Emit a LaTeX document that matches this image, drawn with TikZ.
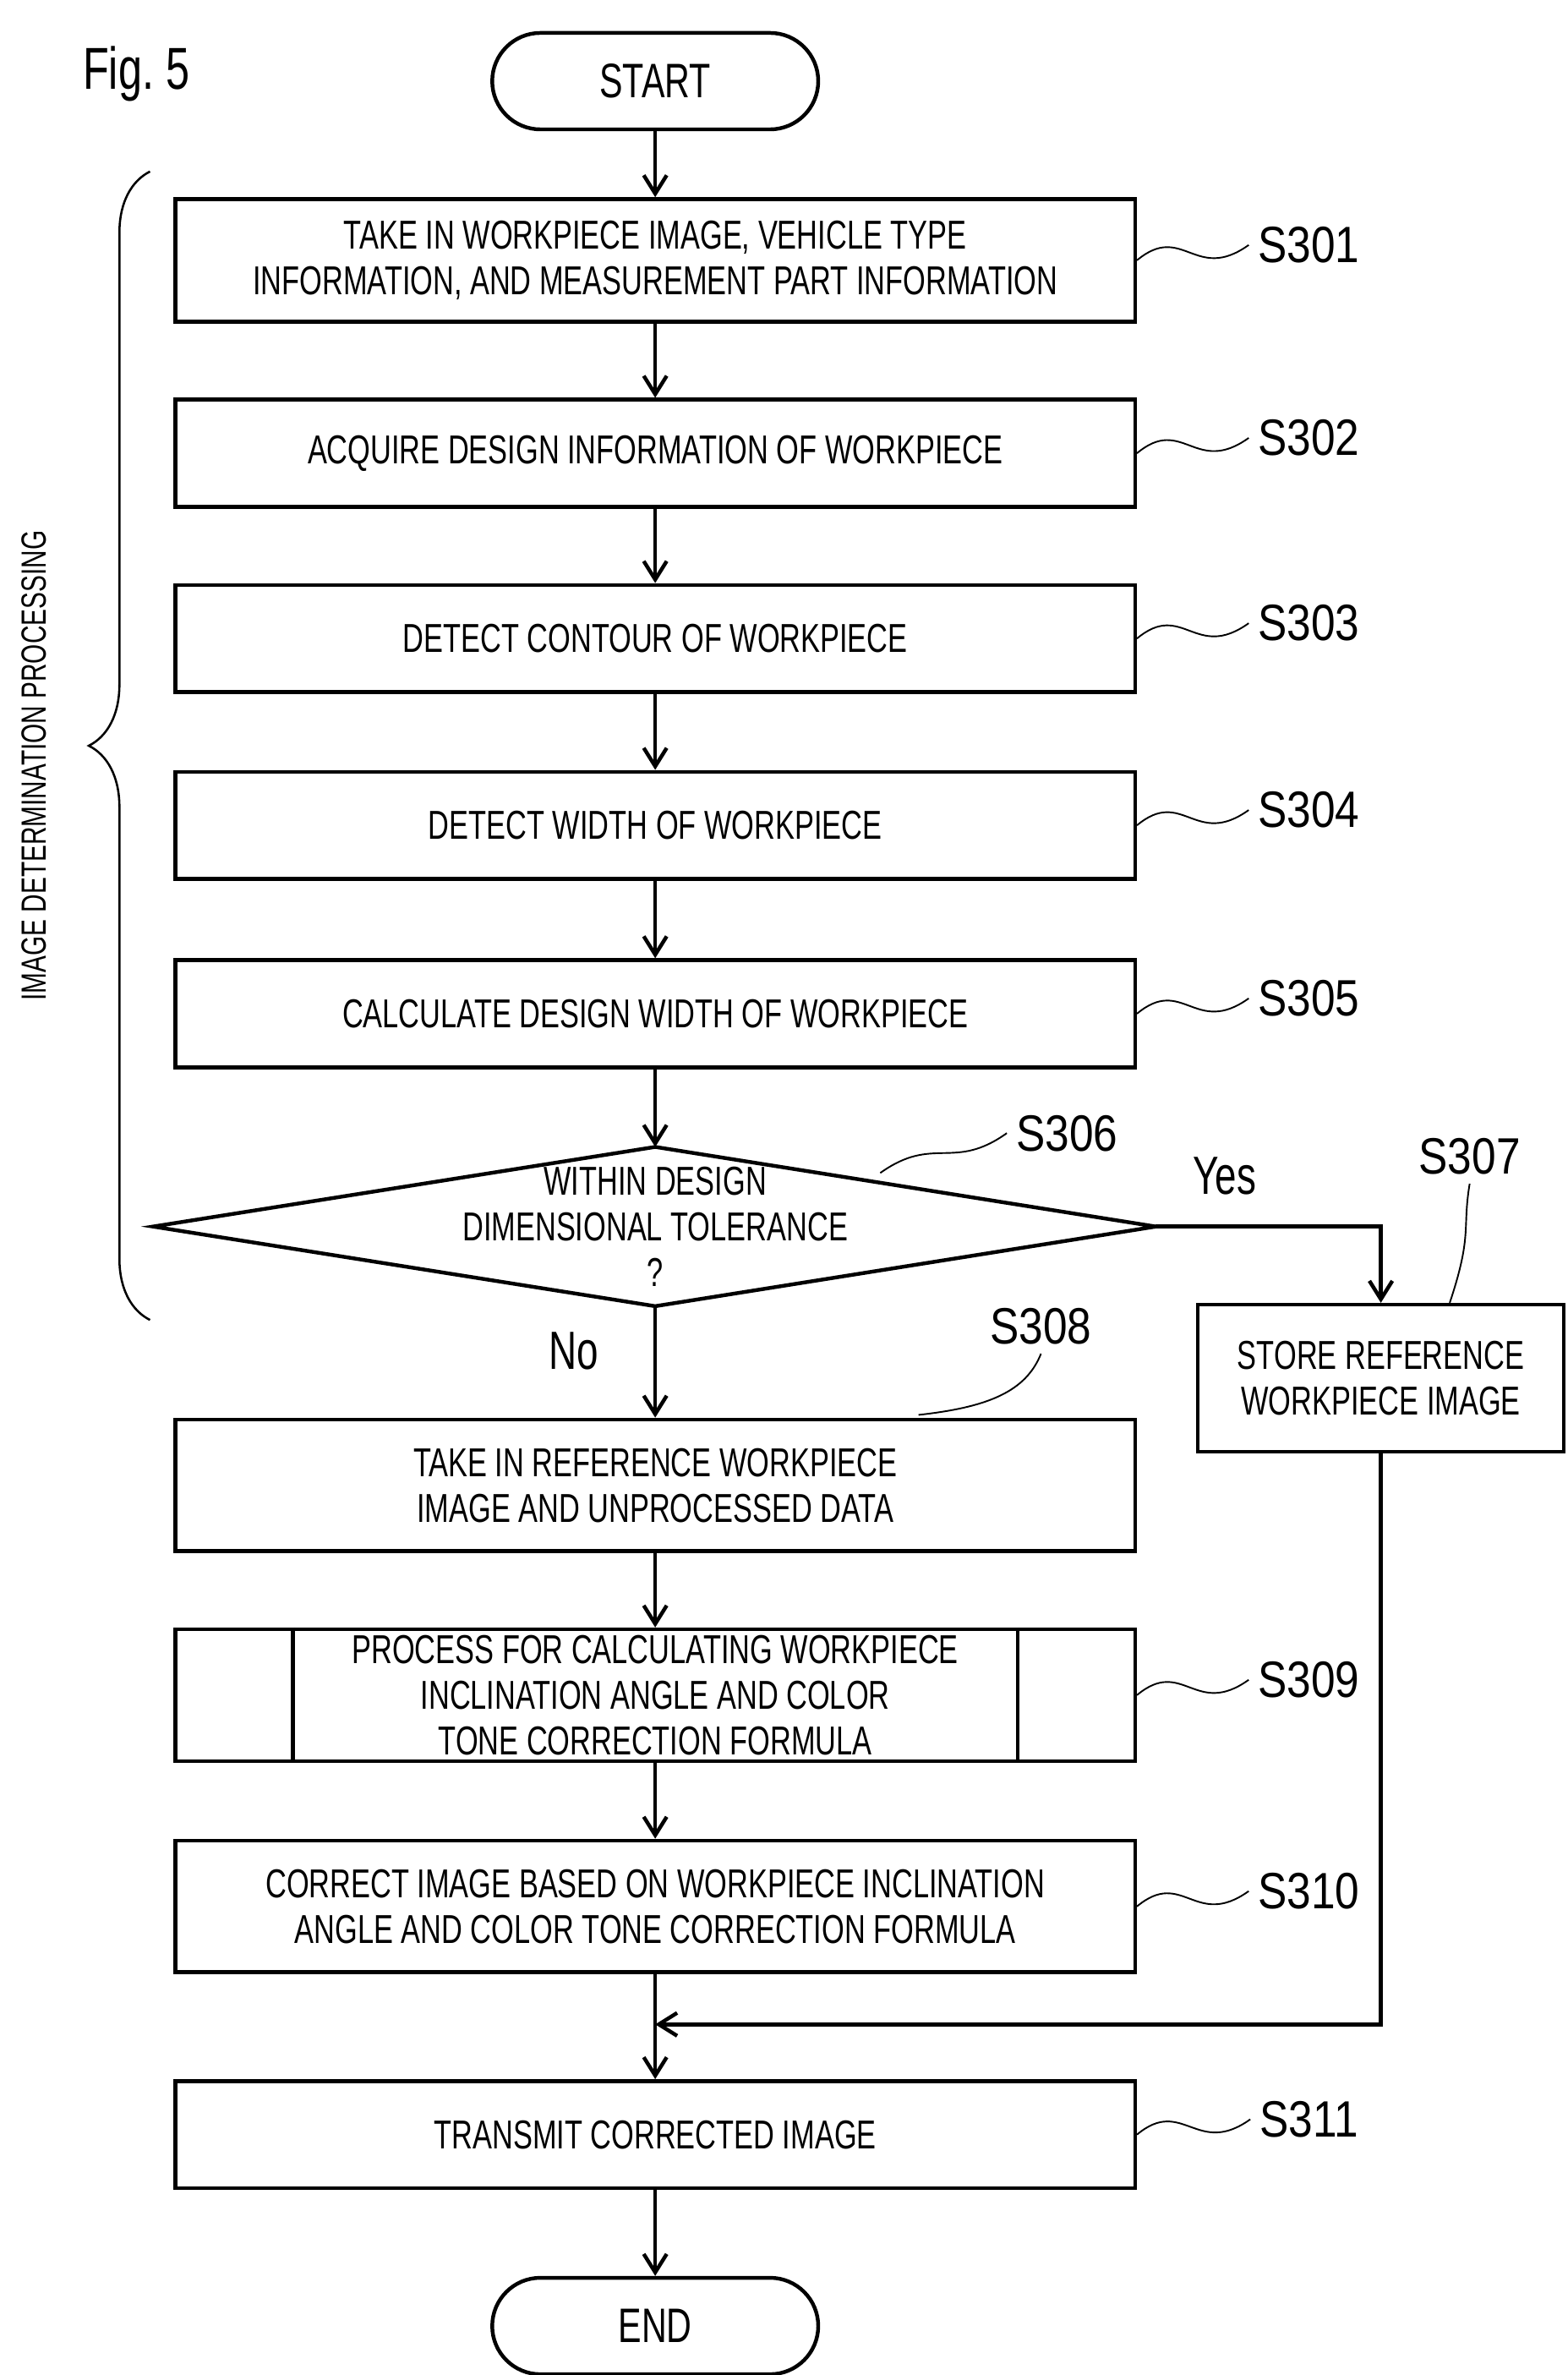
\documentclass[tikz,border=0pt]{standalone}
\usepackage{fontspec}
\setmainfont[FakeStretch=0.72]{Liberation Sans}
\newfontfamily\steplabel[FakeStretch=0.85]{Liberation Sans}
\usetikzlibrary{arrows.meta,decorations.pathreplacing}
\begin{document}
\begin{tikzpicture}[x=0.02cm,y=-0.02cm,
    box/.style={draw, line width=1.4pt, minimum width=12.54cm, minimum height=1.4cm, align=center, font=\fontsize{15}{17}\selectfont, inner sep=0pt},
    term/.style={draw, line width=1.4pt, rounded corners=0.63cm, minimum width=4.26cm, minimum height=1.26cm, font=\fontsize{18}{20}\selectfont},
    steplbl/.style={font=\steplabel\fontsize{19}{21}\selectfont},
    flow/.style={line width=1.4pt, -{Straight Barb[length=2.4mm,width=3mm]}},
    leader/.style={line width=0.6pt},
  ]
\useasboundingbox (0,0) rectangle (1024,1551);

\node[font=\fontsize{22}{24}\selectfont, anchor=west] (fig) at (48,48) {Fig.\ 5};

\node[term] (start) at (428,53) {START};
\node[box, minimum height=1.6cm] (s301) at (428,170) {TAKE IN WORKPIECE IMAGE, VEHICLE TYPE\\INFORMATION, AND MEASUREMENT PART INFORMATION};
\node[box] (s302) at (428,296) {ACQUIRE DESIGN INFORMATION OF WORKPIECE};
\node[box] (s303) at (428,417) {DETECT CONTOUR OF WORKPIECE};
\node[box] (s304) at (428,539) {DETECT WIDTH OF WORKPIECE};
\node[box] (s305) at (428,662) {CALCULATE DESIGN WIDTH OF WORKPIECE};
% decision
\coordinate (dtop) at (428,749);
\coordinate (dbot) at (428,853);
\coordinate (dleft) at (100,801);
\coordinate (dright) at (755,801);
\draw[line width=1.4pt] (dtop) -- (dright) -- (dbot) -- (dleft) -- cycle;
\node[align=center, font=\fontsize{15}{17}\selectfont, inner sep=0pt] (s306) at (428,801) {WITHIN DESIGN\\DIMENSIONAL TOLERANCE\\?};
\node[box, minimum width=4.78cm, minimum height=1.92cm] (s307) at (902,900) {STORE REFERENCE\\WORKPIECE IMAGE};
\node[box, minimum height=1.72cm] (s308) at (428,970) {TAKE IN REFERENCE WORKPIECE\\IMAGE AND UNPROCESSED DATA};
\node[box, minimum height=1.72cm] (s309) at (428,1107) {PROCESS FOR CALCULATING WORKPIECE\\INCLINATION ANGLE AND COLOR\\TONE CORRECTION FORMULA};
\node[box, minimum height=1.72cm] (s310) at (428,1245) {CORRECT IMAGE BASED ON WORKPIECE INCLINATION\\ANGLE AND COLOR TONE CORRECTION FORMULA};
\node[box] (s311) at (428,1394) {TRANSMIT CORRECTED IMAGE};
\node[term] (end) at (428,1519) {END};
\coordinate (merge) at (428,1322);

% predefined process sides
\draw[line width=1.4pt] ([xshift=1.56cm]s309.north west) -- ([xshift=1.56cm]s309.south west);
\draw[line width=1.4pt] ([xshift=-1.56cm]s309.north east) -- ([xshift=-1.56cm]s309.south east);

\draw[flow] (start) -- (s301);
\draw[flow] (s301) -- (s302);
\draw[flow] (s302) -- (s303);
\draw[flow] (s303) -- (s304);
\draw[flow] (s304) -- (s305);
\draw[flow] (s305) -- (dtop);
\draw[flow] (dbot) -- node[pos=0.4, left=0.6cm, font=\fontsize{20}{22}\selectfont] {No} (s308);
\draw[flow] (dright) -| (s307.north);
\node[font=\fontsize{20}{22}\selectfont] (yes) at (800,768) {Yes};
\draw[flow] (s308) -- (s309);
\draw[flow] (s309) -- (s310);
\draw[line width=1.4pt] (s310) -- (merge);
\draw[flow] (merge) -- (s311);
\draw[flow] (s307.south) |- (merge);
\draw[flow] (s311) -- (end);

% step labels
\foreach \n/\y in {s301/170, s302/296, s303/417, s304/539, s305/662, s309/1107, s310/1245, s311/1394} {
  \node[steplbl] (l\n) at (855,\y-10) {\MakeUppercase{\n}};
  \draw[leader] (\n.east) .. controls +(30,-25) and +(-35,25) .. (l\n.west);
}
\node[steplbl] (ls306) at (697,740) {S306};
\draw[leader] (575,766) .. controls +(35,-25) and +(-35,25) .. (ls306.west);
\node[steplbl] (ls307) at (960,755) {S307};
\draw[leader] ([xshift=0.9cm]s307.north) .. controls +(15,-45) and +(-5,30) .. (ls307.south);
\node[steplbl] (ls308) at (680,866) {S308};
\draw[leader] (600,924) .. controls +(45,-5) and +(-10,25) .. (ls308.south);

% brace
\draw[line width=0.8pt, decorate, decoration={brace, amplitude=0.8cm}] (98,862) -- (98,112);
\node[rotate=90, font=\fontsize{13}{15}\selectfont] (img) at (22,500) {IMAGE DETERMINATION PROCESSING};
\end{tikzpicture}
\end{document}
